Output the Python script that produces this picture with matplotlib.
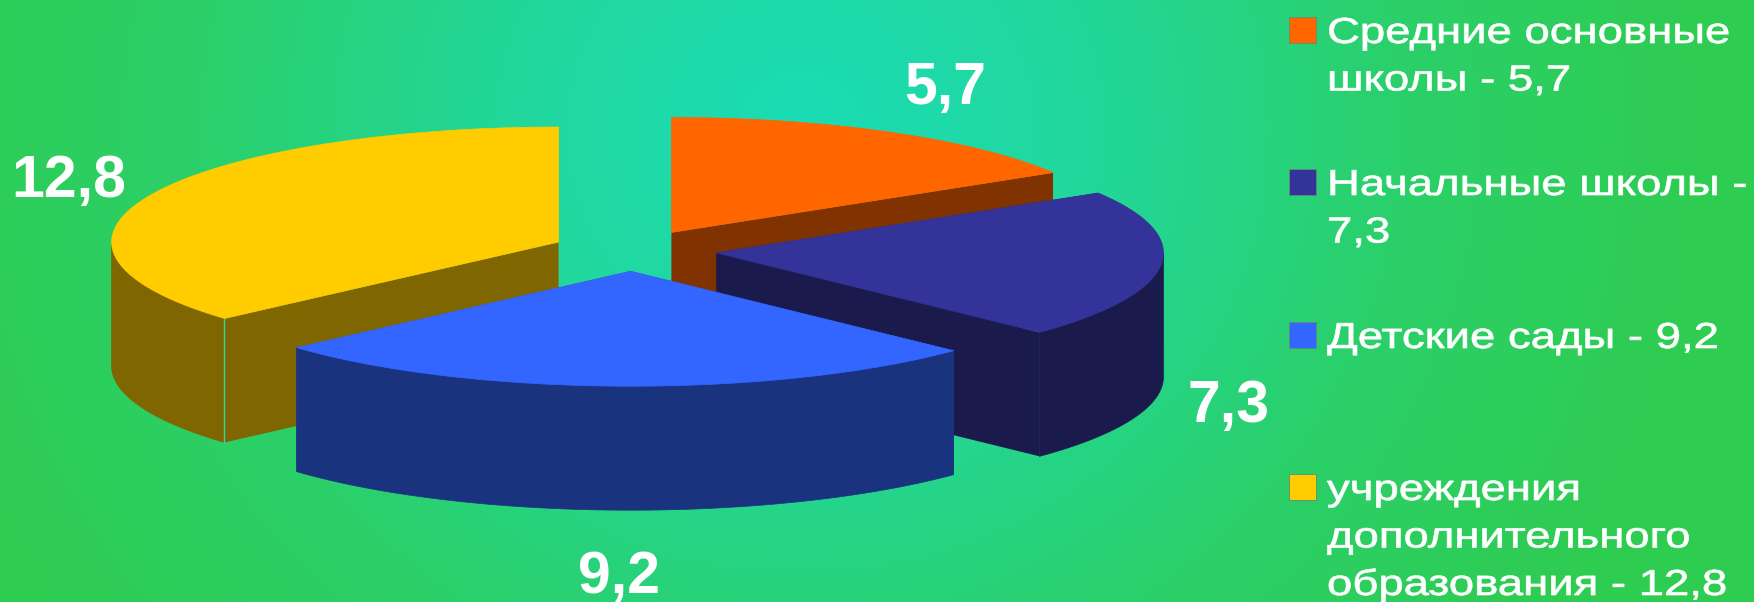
import numpy as np
import matplotlib
matplotlib.use("Agg")
from matplotlib import pyplot as plt
from matplotlib.colors import LinearSegmentedColormap
from matplotlib.patches import Polygon, Rectangle
from matplotlib.patheffects import AbstractPathEffect
from matplotlib.transforms import Affine2D

categories = ["Средние основные\nшколы - 5,7", "Начальные школы -\n7,3", "Детские сады - 9,2",
              "учреждения\nдополнительного\nобразования - 12,8"]
values = [5.7, 7.3, 9.2, 12.8]
top_colors = ["#ff6600", "#333399", "#3366ff", "#ffcc00"]
side_colors = ["#803300", "#1a1a4d", "#1a337f", "#806600"]
explode = [0.18, 0.19, 0.18, 0.18]
draw_order = [0, 3, 1, 2]

W, H = 1754, 602
CX, CY = 632, 250.5
RX, RY = 447, 115
DEPTH = 124


class StretchX(AbstractPathEffect):
    # widens the text horizontally, the original has a stretched font
    def __init__(self, sx, stroke=0.5):
        super().__init__()
        self.sx = sx
        self.stroke = stroke

    def draw_path(self, renderer, gc, tpath, affine, rgbFace=None):
        gc0 = renderer.new_gc()
        gc0.copy_properties(gc)
        gc0.set_linewidth(self.stroke)
        gc0.set_foreground("white")
        renderer.draw_path(gc0, tpath, Affine2D().scale(self.sx, 1) + affine, rgbFace)
        gc0.restore()


def ell(theta, ox, oy):
    t = np.radians(theta)
    return np.column_stack([ox + RX * np.sin(t), oy - RY * np.cos(t)])


def draw_slice(ax, start, end, i):
    mid = np.radians((start + end) / 2)
    ox = CX + explode[i] * RX * np.sin(mid)
    oy = CY - explode[i] * RY * np.cos(mid)
    arc = ell(np.linspace(start, end, 80), ox, oy)
    apex = np.array([ox, oy])
    down = np.array([0, DEPTH])
    side = side_colors[i]

    # outer wall is only visible on the front half of the rim
    lo, hi = max(start, 90), min(end, 270)
    if lo < hi:
        rim = ell(np.linspace(lo, hi, 80), ox, oy)
        ax.add_patch(Polygon(np.vstack([rim, (rim + down)[::-1]]), fc=side, ec=side, lw=0.5))
    for p in (arc[0], arc[-1]):
        quad = np.array([apex, p, p + down, apex + down])
        ax.add_patch(Polygon(quad, fc=side, ec="none"))
    ax.add_patch(Polygon(np.vstack([apex, arc]), fc=top_colors[i], ec=top_colors[i], lw=0.5))
    return arc


fig = plt.figure(figsize=(W / 100, H / 100), dpi=100)
ax = fig.add_axes([0, 0, 1, 1])
ax.set_xlim(0, W)
ax.set_ylim(H, 0)
ax.axis("off")

# background
yy, xx = np.mgrid[0:H, 0:W]
dist = np.sqrt(((xx - 800) / 900) ** 2 + ((yy - 130) / 850) ** 2)
cmap = LinearSegmentedColormap.from_list("bg", ["#1bdcb6", "#22d79a", "#2bd06a", "#2fcc52"])
ax.imshow(np.clip(dist, 0, 1), cmap=cmap, vmin=0, vmax=1, extent=(0, W, H, 0), aspect="auto", zorder=0)

angles = np.concatenate([[0], np.cumsum(values) / np.sum(values) * 360])
for i in draw_order:
    arc = draw_slice(ax, angles[i], angles[i + 1], i)
    if i == 3:
        # thin light seam on the yellow slice corner
        ax.plot([arc[0][0] - 1, arc[0][0] - 1], [arc[0][1] + 1, arc[0][1] + DEPTH], color="#2fd8a0", lw=1)

# value labels
label_pos = [(945, 104), (1229, 422), (619, 593), (69, 197)]
for v, (x, y) in zip(values, label_pos):
    ax.text(x, y, f"{v:.1f}".replace(".", ","), color="white", fontsize=42.5, fontweight="bold",
            family="Liberation Sans", ha="center", va="baseline")

# legend
legend_y = [43, 195, 348, 500]
for i, label in enumerate(categories):
    ax.add_patch(Rectangle((1289, legend_y[i] - 26), 27, 26, fc=top_colors[i], ec="#668877", lw=0.6))
    for j, line in enumerate(label.split("\n")):
        ax.text(1327, legend_y[i] + j * 47.5, line, color="white", fontsize=26,
                family="Liberation Sans", ha="left", va="baseline",
                path_effects=[StretchX(1.26)])

plt.savefig("out.png", dpi=100)
